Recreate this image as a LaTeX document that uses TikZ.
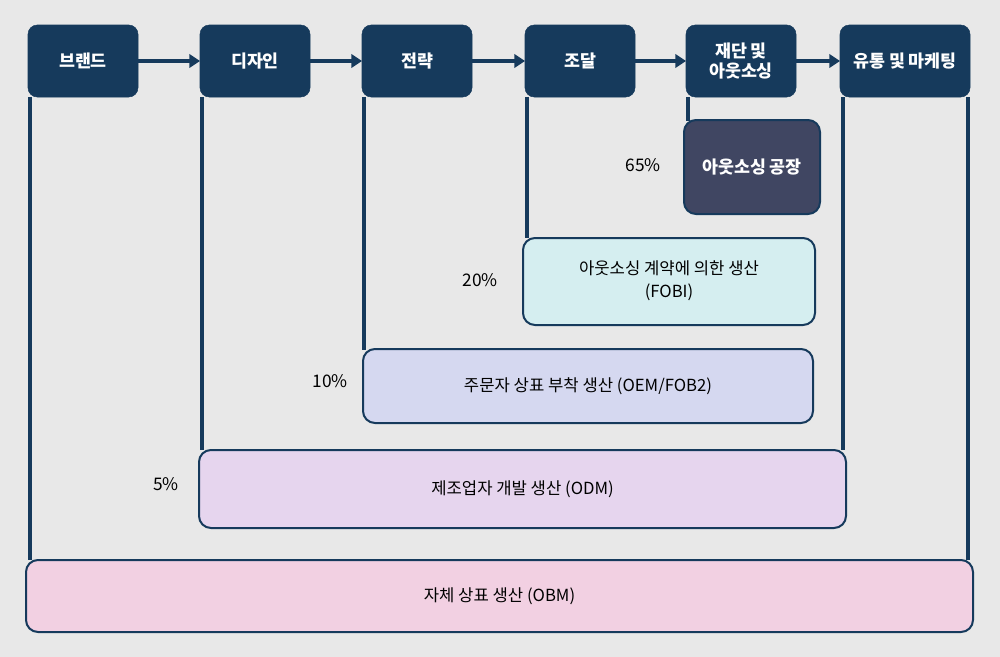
\documentclass[tikz,border=0pt]{standalone}
\usepackage{fontspec}
\setmainfont{Noto Sans CJK KR}
\usetikzlibrary{arrows.meta}
\definecolor{navy}{RGB}{22,58,92}
\definecolor{slate}{RGB}{64,70,98}
\definecolor{bggray}{RGB}{232,232,232}
\tikzset{
  topbox/.style={draw=navy,fill=navy,rounded corners=7pt,text=white,font=\bfseries\fontsize{13}{15}\selectfont,align=center},
  levelbox/.style={draw=navy,line width=1.5pt,rounded corners=9pt,font=\fontsize{12.5}{15}\selectfont,align=center},
  conn/.style={navy,line width=3pt},
  pct/.style={font=\fontsize{13}{15}\selectfont}
}
\begin{document}
\begin{tikzpicture}[x=0.75pt,y=0.75pt,yscale=-1,xscale=1]
\fill[bggray] (0,0) rectangle (1000,657);
\useasboundingbox (0,0) rectangle (1000,657);

% vertical connectors
\draw[conn] (30,97) -- (30,560);
\draw[conn] (968,97) -- (968,560);
\draw[conn] (202,97) -- (202,450);
\draw[conn] (843,97) -- (843,450);
\draw[conn] (364,97) -- (364,350);
\draw[conn] (527,97) -- (527,238);
\draw[conn] (688,97) -- (688,121);

% level boxes
\draw[levelbox,fill={rgb,255:red,242;green,208;blue,226}] (26,560) rectangle (973,632);
\node[font=\fontsize{12.5}{15}\selectfont] (obm) at (499.5,596) {자체 상표 생산 (OBM)};
\draw[levelbox,fill={rgb,255:red,230;green,213;blue,238}] (199,450) rectangle (846,528);
\node[font=\fontsize{12.5}{15}\selectfont] (odm) at (522.5,489) {제조업자 개발 생산 (ODM)};
\draw[levelbox,fill={rgb,255:red,213;green,216;blue,240}] (363,349) rectangle (813,423);
\node[font=\fontsize{12.5}{15}\selectfont] (oem) at (588,386) {주문자 상표 부착 생산 (OEM/FOB2)};
\draw[levelbox,fill={rgb,255:red,213;green,238;blue,240}] (523,238) rectangle (815,325);
\node[font=\fontsize{12.5}{17}\selectfont,align=center] (fobi) at (669,281) {아웃소싱 계약에 의한 생산\\(FOBI)};
\draw[levelbox,fill=slate] (684,120) rectangle (820,214);
\node[text=white,font=\bfseries\fontsize{13}{15}\selectfont] (factory) at (752,167) {아웃소싱 공장};

% percentages
\node[pct] (p65) at (643,165) {65\%};
\node[pct] (p20) at (480,280) {20\%};
\node[pct] (p10) at (330,381) {10\%};
\node[pct] (p5) at (166,484) {5\%};

% value chain
\draw[topbox] (28,25) rectangle (138,97);
\node[topbox,draw=none] (brand) at (83,61) {브랜드};
\draw[topbox] (200,25) rectangle (310,97);
\node[topbox,draw=none] (design) at (255,61) {디자인};
\draw[topbox] (362,25) rectangle (472,97);
\node[topbox,draw=none] (strategy) at (417,61) {전략};
\draw[topbox] (525,25) rectangle (635,97);
\node[topbox,draw=none] (sourcing) at (580,61) {조달};
\draw[topbox] (686,25) rectangle (796,97);
\node[topbox,draw=none] (cutting) at (741,61) {재단 및\\아웃소싱};
\draw[topbox] (840,25) rectangle (970,97);
\node[topbox,draw=none] (market) at (905,61) {유통 및 마케팅};

\foreach \a/\b in {138/200,310/362,472/525,635/686,796/840}
  \draw[conn,-{Triangle[length=8pt,width=10pt]}] (\a,61) -- (\b,61);
\end{tikzpicture}
\end{document}
